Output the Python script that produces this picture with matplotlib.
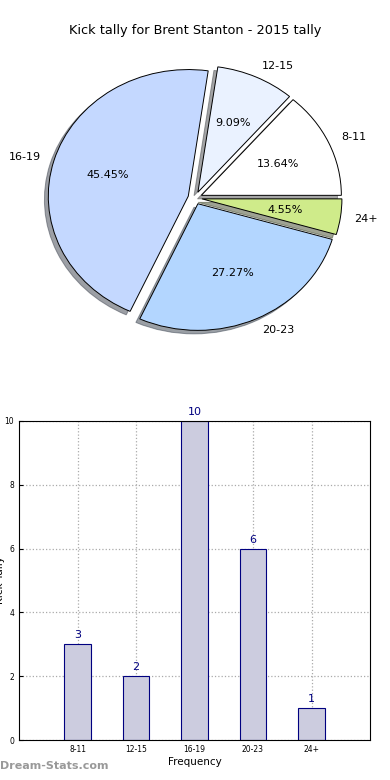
import numpy as np
import matplotlib
matplotlib.use("Agg")
import matplotlib.pyplot as plt

categories = ["8-11", "12-15", "16-19", "20-23", "24+"]
counts = [3, 2, 10, 6, 1]
pie_colors = ["#ffffff", "#eaf2ff", "#c4d8ff", "#b3d6ff", "#cfeb8a"]
title = "Kick tally for Brent Stanton - 2015 tally"

fig = plt.figure(figsize=(3.9, 7.8), dpi=100)

# ---- pie (slightly squashed, like the original renderer) ------------------
axp = fig.add_axes([0.0, 0.4962, 1.0, 0.5])
wedges, texts, autotexts = axp.pie(
    counts, labels=categories, colors=pie_colors, explode=[0.05] * len(counts),
    autopct="%.2f%%", shadow=True, startangle=0, labeldistance=1.1,
    wedgeprops={"edgecolor": "black", "linewidth": 0.7},
    textprops={"fontsize": 8})
axp.set_aspect("auto")
axp.set_xlim(-1.393, 1.393)
axp.set_ylim(-1.54, 1.54)
fig.text(0.5, 0.961, title, ha="center", va="center", fontsize=9.3)

# ---- bars ----------------------------------------------------------------
ax = fig.add_axes([19 / 390, 40 / 780, 351 / 390, 319 / 780])
x = np.arange(len(categories))
ax.bar(x, counts, width=0.45, color="#ccccdf", edgecolor="#000080", linewidth=0.8, zorder=2)
for xi, c in zip(x, counts):
    ax.text(xi, c + 0.12, str(c), ha="center", va="bottom", color="#000080", fontsize=8)
ax.set_xlim(-1, 5)
ax.set_ylim(0, 10)
ax.set_xticks(x)
ax.set_xticklabels(categories)
ax.set_yticks(range(0, 11, 2))
ax.tick_params(labelsize=5.5, direction="in", length=3)
ax.grid(True, ls=":", color="#aaaaaa", lw=0.9, zorder=0)
ax.set_axisbelow(True)
ax.set_xlabel("Frequency", fontsize=7.5, labelpad=2)
ax.set_ylabel("Kick Tally", fontsize=7.5)
ax.yaxis.set_label_coords(-0.04, 0.5)

fig.text(0.0, 0.012, "Dream-Stats.com", fontsize=8, color="#999999", fontweight="bold",
         ha="left", va="bottom")

fig.savefig("out.png", dpi=100)
